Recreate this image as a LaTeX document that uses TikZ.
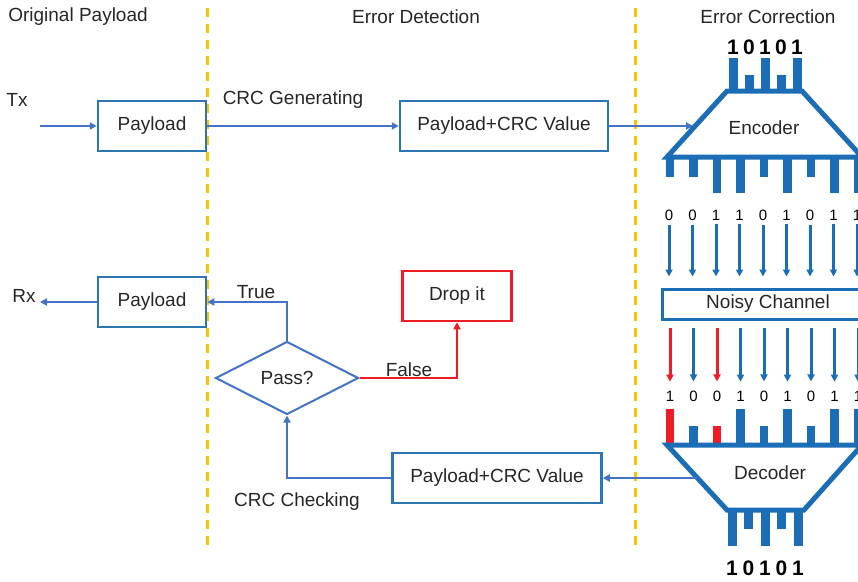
\documentclass[tikz,border=0pt]{standalone}
\usepackage{fontspec}
\setmainfont{Liberation Sans}
\usetikzlibrary{arrows.meta,shapes.geometric}

\definecolor{boxblue}{HTML}{2E75B6}
\definecolor{linkblue}{HTML}{4472C4}
\definecolor{codeblue}{HTML}{1B6EB6}
\definecolor{dropred}{HTML}{EE1C25}
\definecolor{guideyellow}{HTML}{FFC000}
\definecolor{ink}{HTML}{262626}

\tikzset{
  blk/.style={draw=boxblue, line width=2.5pt, inner sep=0pt, minimum height=50pt},
  link/.style={->, draw=linkblue, line width=2pt},
  guide/.style={draw=guideyellow, line width=3pt, dash pattern=on 9pt off 7pt},
  coder/.style={draw=codeblue, fill=white, line width=5pt, line join=miter},
  bigbit/.style={font=\fontsize{21}{24}\bfseries\selectfont, text=black, inner sep=1pt},
  smallbit/.style={font=\fontsize{15}{18}\selectfont, text=black, inner sep=1pt},
  chanarrow/.style={->, line width=3pt}
}

\begin{document}
\begin{tikzpicture}[x=1pt, y=-1pt, >={Triangle[length=7pt,width=7pt]},
    every node/.style={font=\fontsize{19}{23}\selectfont, text=ink}]
  \clip (0,0) rectangle (858,581);

  \draw[guide] (207,8) -- (207,552);
  \draw[guide] (635,8) -- (635,552);

  \node (hd1) at (78,17) {Original Payload};
  \node (hd2) at (416,17) {Error Detection};
  \node (hd3) at (768,17) {Error Correction};

  % sending side
  \node[blk, minimum width=108pt] (pl1) at (152,126) {Payload};
  \node[blk, minimum width=208pt] (crc1) at (504,126) {Payload+CRC Value};
  \coordinate (tx) at (40,126);
  \coordinate (encin) at (693,126);
  \node (txlbl) at (17,100) {Tx};
  \draw[link] (tx) -- (pl1.west);
  \draw[link] (pl1.east) -- (crc1.west);
  \node (gen) at (293,100) {CRC Generating};
  \draw[link] (crc1.east) -- (encin);

  % encoder
  \foreach \b [count=\i from 0] in {1,0,1,0,1} {
    \fill[codeblue] ({733+16*\i-4.5},91) rectangle ({733+16*\i+4.5},{75-17*\b});
    \node[bigbit] (ta\i) at ({733+16*\i},47) {\b};
  }
  \foreach \b [count=\i from 0] in {0,0,1,1,0,1,0,1,1}
    \fill[codeblue] ({670+23.5*\i-4.3},157) rectangle ({670+23.5*\i+4.3},{177+16*\b});
  \draw[coder] (727,91) -- (802,91) -- (862,157) -- (667,157) -- cycle;
  \node (enc) at (764,128) {Encoder};

  % channel
  \node[draw=codeblue, line width=3pt, minimum width=212pt, minimum height=30pt, inner sep=0pt] (chan) at (768,304) {Noisy Channel};
  \foreach \b [count=\i from 0] in {0,0,1,1,0,1,0,1,1} {
    \node[smallbit] (ba\i) at ({669+23.5*\i},215) {\b};
    \draw[chanarrow, draw=codeblue, shorten <=3pt, shorten >=11pt] (ba\i.south) -- (ba\i.south |- chan.north);
  }
  \foreach \b/\c [count=\i from 0] in {1/dropred,0/codeblue,0/dropred,1/codeblue,0/codeblue,1/codeblue,0/codeblue,1/codeblue,1/codeblue} {
    \node[smallbit] (bb\i) at ({670+23.5*\i},396) {\b};
    \draw[chanarrow, draw=\c, shorten <=7pt, shorten >=8pt] (chan.south -| bb\i) -- (bb\i.north);
    \fill[\c] ({670+23.5*\i-4.3},445) rectangle ({670+23.5*\i+4.3},{426-17*\b});
  }

  % decoder
  \foreach \b [count=\i from 0] in {1,0,1,0,1} {
    \fill[codeblue] ({732+16.5*\i-4.5},510) rectangle ({732+16.5*\i+4.5},{529+17*\b});
    \node[bigbit] (tb\i) at ({732+16.5*\i},568) {\b};
  }
  \draw[coder] (667,445) -- (862,445) -- (804,510) -- (727,510) -- cycle;
  \node (dec) at (770,473) {Decoder};

  % receiving side
  \coordinate (decout) at (697,478);
  \coordinate (rx) at (40,302);
  \node[blk, minimum width=209pt] (crc2) at (497,478) {Payload+CRC Value};
  \node[diamond, draw=linkblue, line width=2pt, aspect=2, inner sep=0pt, minimum width=143pt, minimum height=73pt] (pass) at (287,378) {Pass?};
  \node[blk, draw=dropred, minimum width=109pt] (drop) at (457,296) {Drop it};
  \node[blk, minimum width=108pt] (pl2) at (152,302) {Payload};
  \draw[link] (decout) -- (crc2.east);
  \draw[link] (crc2.west) -| (pass.south);
  \node (chk) at (297,502) {CRC Checking};
  \draw[link] (pass.north) |- (pl2.east);
  \node (tru) at (256,292) {True};
  \draw[link, draw=dropred] (pass.east) -| (drop.south);
  \node (fls) at (409,370) {False};
  \draw[link] (pl2.west) -- (rx);
  \node (rxlbl) at (24,296) {Rx};
\end{tikzpicture}
\end{document}
